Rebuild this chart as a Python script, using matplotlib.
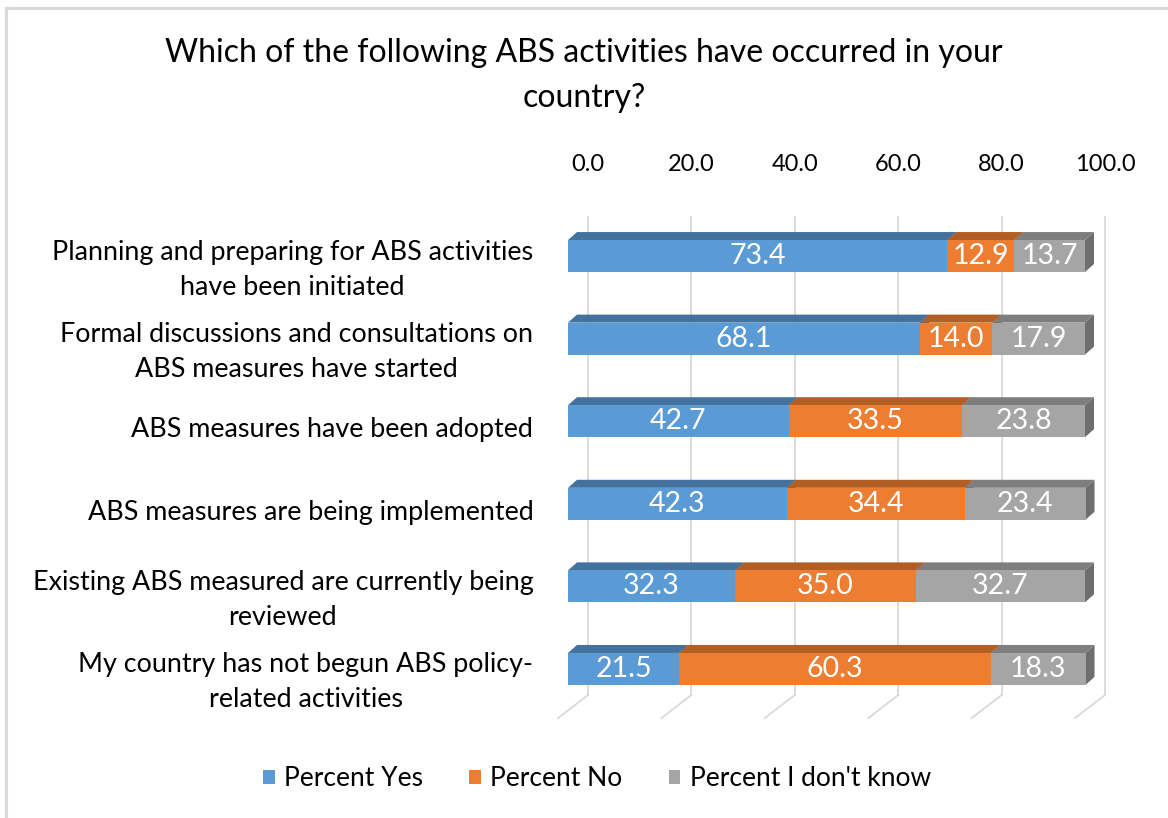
import numpy as np
import matplotlib
matplotlib.use("Agg")
import matplotlib.pyplot as plt
from matplotlib.patches import Polygon, Patch
from matplotlib.lines import Line2D
from matplotlib.transforms import ScaledTranslation

plt.rcParams['font.family'] = ['Lato', 'DejaVu Sans']

# données
categories = [
    "Planning and preparing for ABS activities\nhave been initiated",
    "Formal discussions and consultations on\nABS measures have started",
    "ABS measures have been adopted",
    "ABS measures are being implemented",
    "Existing ABS measured are currently being\nreviewed",
    "My country has not begun ABS policy-\nrelated activities",
]
pct_yes = [73.4, 68.1, 42.7, 42.3, 32.3, 21.5]
pct_no = [12.9, 14.0, 33.5, 34.4, 35.0, 60.3]
pct_dk = [13.7, 17.9, 23.8, 23.4, 32.7, 18.3]
series_names = ["Percent Yes", "Percent No", "Percent I don't know"]
ticks = [0, 20, 40, 60, 80, 100]

colors = ["#5B9BD5", "#ED7D31", "#A5A5A5"]
tops = ["#44729E", "#B35E24", "#7E7E7E"]
sides = ["#3A6690", "#A05320", "#6E6E6E"]

fig = plt.figure(figsize=(11.68, 8.18), dpi=100)
W, H = 1168, 818

# profondeur 3D (unités de données)
bar_h = 0.387
ddx, ddy = 1.74, 0.097      # épaisseur des barres
back_dx = 3.87              # plan du fond (grille)
floor_dx, floor_dy = -5.8, 0.28

# axe : 0 -> x=568px, 100 -> x=1085px (5.17 px / unité)
xmax = 100 + back_dx
ax = fig.add_axes([568 / W, 1 - 743.3 / H, 5.17 * xmax / W, (743.3 - 181.7) / H])
for s in ax.spines.values():
    s.set_visible(False)

grid_top, grid_bot = -0.472, 5.315
for t in ticks:
    xb = t + back_dx
    ax.add_line(Line2D([xb, xb], [grid_top, grid_bot], color="#D9D9D9", lw=1.3, clip_on=False, zorder=0))
    ax.add_line(Line2D([xb, xb + floor_dx], [grid_bot, grid_bot + floor_dy], color="#D9D9D9", lw=1.3,
                       clip_on=False, zorder=0))

data = np.array([pct_yes, pct_no, pct_dk])
for i in range(len(categories)):
    left = 0.0
    y0 = i + bar_h / 2   # bas (axe inversé)
    y1 = i - bar_h / 2   # haut
    for k in range(3):
        w = data[k, i]
        x0, x1 = left, left + w
        # face latérale
        ax.add_patch(Polygon([(x1, y0), (x1, y1), (x1 + ddx, y1 - ddy), (x1 + ddx, y0 - ddy)],
                             closed=True, facecolor=sides[k], edgecolor="none", clip_on=False, zorder=2))
        # face du dessus
        ax.add_patch(Polygon([(x0, y1), (x1, y1), (x1 + ddx, y1 - ddy), (x0 + ddx, y1 - ddy)],
                             closed=True, facecolor=tops[k], edgecolor="none", clip_on=False, zorder=2))
        # face avant
        ax.add_patch(Polygon([(x0, y0), (x1, y0), (x1, y1), (x0, y1)],
                             closed=True, facecolor=colors[k], edgecolor="none", clip_on=False, zorder=3))
        ax.text((x0 + x1) / 2, i, f"{w:.1f}", ha="center", va="center", color="white",
                fontsize=20.5, zorder=4)
        left = x1

ax.xaxis.tick_top()
ax.set_xticks([t + back_dx for t in ticks], labels=[f"{t:.1f}" for t in ticks])
ax.tick_params(axis="x", length=0, pad=5, labelsize=17, labelcolor="#000000")
ax.set_yticks(range(len(categories)), labels=categories)
ax.tick_params(axis="y", length=0, pad=25, labelsize=19.4, labelcolor="#000000")
shift = ScaledTranslation(0, -6 / 100, fig.dpi_scale_trans)
for lab in ax.get_yticklabels():
    lab.set_multialignment("center")
    lab.set_linespacing(1.5)
    lab.set_transform(lab.get_transform() + shift)
ax.set_xlim(0, xmax)
ax.set_ylim(5.9, -0.9)

fig.text(0.5, 1 - 53 / H, "Which of the following ABS activities have occurred in your",
         ha="center", va="center", fontsize=23)
fig.text(0.5, 1 - 98 / H, "country?", ha="center", va="center", fontsize=23)

handles = [Patch(facecolor=c, edgecolor="none") for c in colors]
fig.legend(handles, series_names, loc="center", bbox_to_anchor=(0.511, 1 - 779 / H), ncol=3,
           frameon=False, fontsize=19, handlelength=0.45, handleheight=0.45, handletextpad=0.35,
           columnspacing=1.75)

# bordure du graphique
fig.add_artist(Line2D([6 / W, 6 / W], [0, 1 - 8 / H], color="#D9D9D9", lw=2.2))
fig.add_artist(Line2D([6 / W, 1], [1 - 8 / H, 1 - 8 / H], color="#D9D9D9", lw=2.2))

fig.savefig("out.png", dpi=100, facecolor="white")
